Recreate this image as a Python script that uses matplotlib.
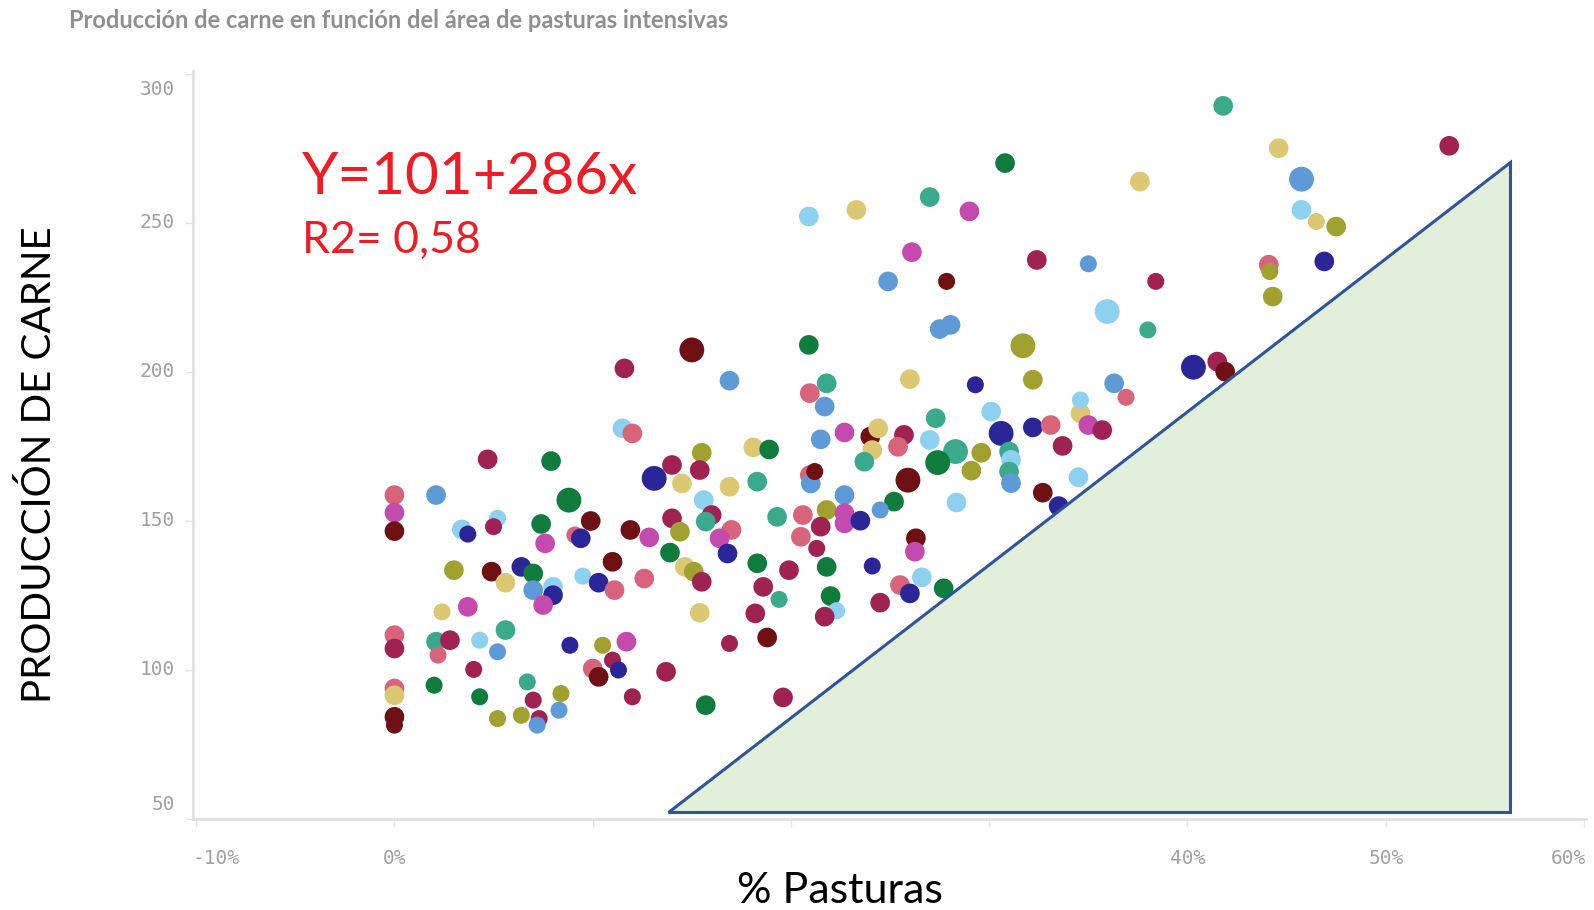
import numpy as np
import matplotlib.pyplot as plt
from matplotlib.patches import Polygon
from matplotlib.transforms import offset_copy

# colour names used by the points
palette = {
    'maroon': '#6E1014', 'crimson': '#A02253', 'pink': '#D9637A',
    'magenta': '#C54AAE', 'dblue': '#2B2697', 'mblue': '#5E9AD6',
    'lblue': '#8DD0F0', 'teal': '#3BA98C', 'green': '#0F7B3C',
    'olive': '#A0A12E', 'tan': '#DCC873',
}
size_map = {'S': 150, 'M': 200, 'L': 320}

# % pasturas intensivas (in %)
pasturas = [
    15.0, 11.6, 16.9, 11.5, 12.0, 4.7, 7.9, 18.1, 15.5, 14.0, 15.4, 13.1, 14.5, 16.9, 18.3,
    0.0, 0.0, 0.0, 2.1, 8.8, 15.6, 16.0, 15.7, 17.0, 16.4, 16.8, 3.4, 3.7, 5.2, 5.0,
    7.4, 7.6, 9.9, 9.1, 9.4, 11.9, 12.85, 14.0, 14.4, 13.9, 18.3, 3.0, 4.9, 5.6, 6.4,
    7.0, 7.0, 8.0, 8.0, 7.5, 11.0, 9.5, 10.3, 11.1, 12.6, 14.65, 15.1, 15.5, 15.4, 18.2,
    2.4, 3.7, 0.0, 0.0, 2.1, 2.8, 2.2, 4.3, 5.6, 5.2, 4.0, 8.85, 10.5, 11.7, 10.0,
    10.3, 11.0, 11.3, 13.7, 16.9, 0.0, 0.0, 0.0, 0.0, 2.0, 4.3, 6.7, 7.0, 7.3, 7.2,
    8.4, 8.3, 6.4, 5.2, 12.0, 15.7,
    18.9, 21.5, 22.7, 24.0, 24.4, 24.1, 23.7, 25.7, 25.4, 27.0, 27.3, 30.1, 28.3, 27.4,
    29.6, 29.1, 30.6, 31.0, 31.1, 31.0, 31.1, 32.2, 33.1, 33.7, 34.6, 35.0, 35.7, 34.5,
    32.7, 33.5, 25.9, 25.2, 24.5, 28.35, 20.95, 21.0, 21.2, 19.3, 20.6, 21.8, 21.5, 22.7,
    22.7, 22.7, 23.5, 20.5, 21.3, 19.9, 21.8, 24.1, 26.3, 26.25, 18.6, 19.4, 22.0, 22.3,
    21.7, 24.5, 25.5, 26.0, 26.6, 27.7, 18.8, 19.6,
    30.8, 27.0, 29.0, 23.3, 20.9, 26.1, 32.4, 35.0, 24.9, 27.85, 35.95, 27.5, 28.05, 20.9,
    31.7, 32.2, 26.0, 29.3, 20.95, 21.8, 21.7, 36.3, 34.6,
    41.8, 44.6, 53.2, 37.6, 45.75, 45.75, 46.5, 47.5, 46.9, 44.1, 44.15, 44.3, 38.4, 38.0,
    40.3, 41.5, 41.9, 36.9,
]

# producción de carne
produccion = [
    207.4, 201.2, 197.1, 181.1, 179.4, 170.7, 170.1, 174.7, 172.9, 168.8, 167.1, 164.3, 162.6, 161.5, 163.2,
    158.7, 152.8, 146.6, 158.7, 157.0, 157.0, 152.0, 149.8, 147.0, 144.2, 139.1, 147.2, 145.6, 150.9, 148.1,
    149.0, 142.5, 150.0, 145.3, 144.2, 147.0, 144.5, 150.9, 146.4, 139.4, 135.8, 133.5, 133.0, 129.3, 134.6,
    132.4, 126.8, 127.9, 125.1, 121.8, 136.3, 131.5, 129.3, 126.8, 130.7, 134.6, 133.0, 129.6, 119.2, 119.0,
    119.5, 121.2, 111.7, 107.2, 109.5, 110.0, 105.0, 110.0, 113.4, 106.1, 100.2, 108.3, 108.3, 109.5, 100.5,
    97.7, 103.3, 100.0, 99.4, 108.9, 93.8, 91.5, 84.3, 81.5, 94.9, 91.0, 96.0, 89.9, 83.7, 81.5,
    92.1, 86.5, 84.8, 83.7, 91.0, 88.2,
    174.0, 177.4, 179.7, 178.3, 181.1, 173.8, 169.9, 178.9, 174.9, 177.2, 184.5, 186.7, 173.3, 169.6,
    172.9, 166.9, 179.4, 173.3, 170.5, 166.6, 162.7, 181.4, 182.2, 175.2, 186.1, 182.2, 180.5, 164.7,
    159.5, 155.0, 163.7, 156.5, 153.7, 156.2, 165.4, 162.6, 166.6, 151.4, 152.0, 153.7, 148.1, 158.7,
    152.6, 149.2, 150.1, 144.7, 140.8, 133.5, 134.6, 134.9, 144.2, 139.7, 127.9, 123.7, 124.8, 119.9,
    117.9, 122.6, 128.5, 125.7, 131.1, 127.4, 110.9, 90.8,
    270.1, 258.7, 253.9, 254.4, 252.2, 240.2, 237.6, 236.3, 230.4, 230.4, 220.3, 214.4, 215.8, 209.1,
    208.8, 197.4, 197.6, 195.7, 192.9, 196.2, 188.4, 196.2, 190.6,
    289.3, 275.1, 275.9, 263.9, 264.7, 254.4, 250.5, 248.8, 237.1, 236.0, 233.7, 225.3, 230.4, 214.1,
    201.6, 203.5, 200.1, 191.5,
]

colores = [
    'maroon', 'crimson', 'mblue', 'lblue', 'pink', 'crimson', 'green', 'tan', 'olive', 'crimson', 'crimson', 'dblue', 'tan', 'tan', 'teal',
    'pink', 'magenta', 'maroon', 'mblue', 'green', 'lblue', 'crimson', 'teal', 'pink', 'magenta', 'dblue', 'lblue', 'dblue', 'lblue', 'crimson',
    'green', 'magenta', 'maroon', 'pink', 'dblue', 'maroon', 'magenta', 'crimson', 'olive', 'green', 'green', 'olive', 'maroon', 'tan', 'dblue',
    'green', 'mblue', 'lblue', 'dblue', 'magenta', 'maroon', 'lblue', 'dblue', 'pink', 'pink', 'tan', 'olive', 'crimson', 'tan', 'crimson',
    'tan', 'magenta', 'pink', 'crimson', 'teal', 'crimson', 'pink', 'lblue', 'teal', 'mblue', 'crimson', 'dblue', 'olive', 'magenta', 'pink',
    'maroon', 'crimson', 'dblue', 'crimson', 'crimson', 'pink', 'tan', 'maroon', 'maroon', 'green', 'green', 'teal', 'crimson', 'crimson', 'mblue',
    'olive', 'mblue', 'olive', 'olive', 'crimson', 'green',
    'green', 'mblue', 'magenta', 'maroon', 'tan', 'tan', 'teal', 'crimson', 'pink', 'lblue', 'teal', 'lblue', 'teal', 'green',
    'olive', 'olive', 'dblue', 'teal', 'lblue', 'teal', 'mblue', 'dblue', 'pink', 'crimson', 'tan', 'magenta', 'crimson', 'lblue',
    'maroon', 'dblue', 'maroon', 'green', 'mblue', 'lblue', 'pink', 'mblue', 'maroon', 'teal', 'pink', 'olive', 'crimson', 'mblue',
    'magenta', 'magenta', 'dblue', 'pink', 'crimson', 'crimson', 'green', 'dblue', 'maroon', 'magenta', 'crimson', 'teal', 'green', 'lblue',
    'crimson', 'crimson', 'pink', 'dblue', 'lblue', 'green', 'maroon', 'crimson',
    'green', 'teal', 'magenta', 'tan', 'lblue', 'magenta', 'crimson', 'mblue', 'mblue', 'maroon', 'lblue', 'mblue', 'mblue', 'green',
    'olive', 'olive', 'tan', 'dblue', 'pink', 'teal', 'mblue', 'mblue', 'lblue',
    'teal', 'tan', 'crimson', 'tan', 'mblue', 'lblue', 'tan', 'olive', 'dblue', 'pink', 'olive', 'olive', 'crimson', 'teal',
    'dblue', 'crimson', 'maroon', 'pink',
]

tamanos = (
    'LMMMMMMMMMMLMMM' 'MMMMLMMMMMMMSS' 'S' 'MMMSMMMMMMMMMMM' 'MMMMMMSMMMMMMMM'
    'SMMMMMSSMSSSSMM' 'MSSMSMMMSSSSSSS' 'SSSSSM'
    'MMMMMMMMMMMMLL' 'MMLMMMMMMMMMMM' 'MMLMSMMMSMMMMM' 'MMMMSMMSMMMSMS' 'MMMMMMMM'
    'MMMMMMMSMSLMMM' 'LMMSMMMMS'
    'MMMMLMSMMMSMSS' 'LMMS'
)

eje_x_ticks = [-0.1, 0.0, 0.1, 0.2, 0.3, 0.4, 0.5, 0.6]
eje_x_labels = ['-10%', '0%', '', '', '', '40%', '50%', '60%']
eje_y_ticks = [50, 100, 150, 200, 250, 300]

# green triangle overlay (x in fraction, y in producción)
tri_x = [0.1379, 0.5629, 0.5629]
tri_y = [52.2, 52.2, 270.3]

W, H = 1594, 910
fig = plt.figure(figsize=(W / 100, H / 100), dpi=100)
fig.patch.set_facecolor('white')


def fx(p):
    return p / W


def fy(p):
    return 1 - p / H


ax = fig.add_axes([fx(193), fy(819), fx(1586) - fx(193), fy(71) - fy(819)])
ax.set_xlim(-0.1016, 0.601)
ax.set_ylim(50, 301)

x = np.array(pasturas) / 100
y = np.array(produccion)
c = [palette[k] for k in colores]
s = [size_map[k] for k in tamanos]
n = min(len(x), len(y), len(c), len(s))
ax.scatter(x[:n], y[:n], s=s[:n], c=c[:n], linewidths=0, zorder=3)

tri = Polygon(list(zip(tri_x, tri_y)), closed=True, facecolor='#E2EFDA',
              edgecolor='#2F5597', linewidth=2.2, zorder=5, clip_on=False)
ax.add_patch(tri)

for sp in ['top', 'right']:
    ax.spines[sp].set_visible(False)
for sp in ['left', 'bottom']:
    ax.spines[sp].set_color('#DEDEDE')
    ax.spines[sp].set_linewidth(1.8)

ax.set_xticks(eje_x_ticks)
ax.set_yticks(eje_y_ticks)
ax.set_xticklabels([])
ax.set_yticklabels([])
ax.tick_params(axis='both', colors='#E2E2E2', length=6, width=1)

tick_font = dict(family='DejaVu Sans Mono', fontsize=14, color='#A0A0A0')
xtr = ax.get_xaxis_transform()
for v, lab in zip(eje_x_ticks, eje_x_labels):
    ha = 'center'
    if v == eje_x_ticks[0]:
        ha = 'left'
        v = ax.get_xlim()[0]
    elif v == eje_x_ticks[-1]:
        ha = 'right'
        v = ax.get_xlim()[1]
    ax.text(v, 0, lab, ha=ha, va='center', clip_on=False,
            transform=offset_copy(xtr, fig=fig, y=-40, units='dots'), **tick_font)

ytr = ax.get_yaxis_transform()
for v in eje_y_ticks:
    dy = 0
    if v == eje_y_ticks[-1]:
        dy = -16
    elif v == eje_y_ticks[0]:
        dy = 14
    ax.text(0, v, str(v), ha='right', va='center', clip_on=False,
            transform=offset_copy(ytr, fig=fig, x=-18, y=dy, units='dots'), **tick_font)

fig.text(fx(69), fy(21), 'Producción de carne en función del área de pasturas intensivas',
         fontsize=17, fontweight='bold', color='#8F8F8F', family='Lato', va='center', ha='left')

fig.text(fx(39), fy(465), 'PRODUCCIÓN DE CARNE', rotation=90, fontsize=29,
         family='Lato', color='black', ha='center', va='center')
fig.text(fx(840), fy(891), '% Pasturas', fontsize=31, family='Lato', color='black',
         ha='center', va='center')

fig.text(fx(302), fy(178), 'Y=101+286x', fontsize=42, family='Lato', color='#EE1C25',
         ha='left', va='center')
fig.text(fx(302), fy(240), 'R2= 0,58', fontsize=32, family='Lato', color='#EE1C25',
         ha='left', va='center')

plt.savefig('out.png', dpi=100)
